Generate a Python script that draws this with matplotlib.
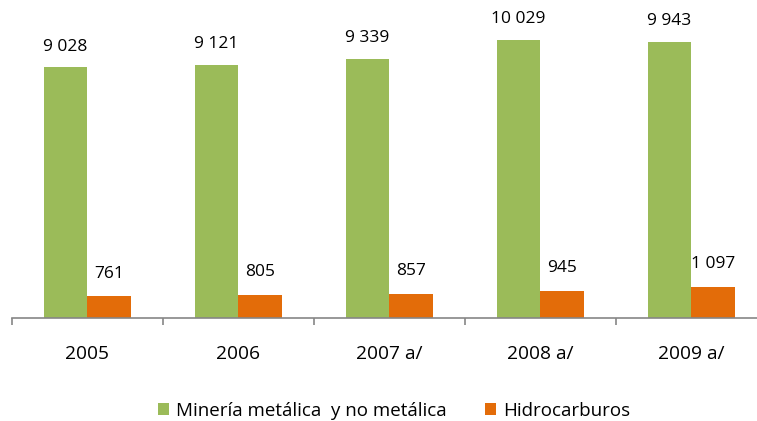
import matplotlib
matplotlib.use("Agg")
import matplotlib.pyplot as plt
import numpy as np
from matplotlib.patches import Patch

categories = ["2005", "2006", "2007 a/", "2008 a/", "2009 a/"]
mineria = [9028, 9121, 9339, 10029, 9943]
hidro = [761, 805, 857, 945, 1097]
series_names = ["Minería metálica  y no metálica", "Hidrocarburos"]
value_labels_m = ["9 028", "9 121", "9 339", "10 029", "9 943"]
value_labels_h = ["761", "805", "857", "945", "1 097"]

plt.rcParams['font.family'] = ['Open Sans', 'DejaVu Sans']

W, H = 757, 421
fig = plt.figure(figsize=(W/100, H/100), dpi=100)
ax_left = 11.5 / W
ax_width = 755 / W
ax_bottom = (H - 317.5) / H
ax_height = 317.5 / H
ax = fig.add_axes([ax_left, ax_bottom, ax_width, ax_height])

green = "#9BBB59"
orange = "#E36C09"
n = len(categories)
x = np.arange(n)
bw = 43.5 / 151
ax.bar(x - bw/2, mineria, width=bw, color=green, label=series_names[0])
ax.bar(x + bw/2, hidro, width=bw, color=orange, label=series_names[1])

ax.set_xlim(-0.5, n - 0.5)
ymax = 317.5 / 0.0277
ax.set_ylim(0, ymax)

for i in range(n):
    ax.annotate(value_labels_m[i], (x[i] - bw/2, mineria[i]), xytext=(0, 15),
                textcoords="offset points", ha="center", va="center", fontsize=12.5, color="black")
    ax.annotate(value_labels_h[i], (x[i] + bw/2, hidro[i]), xytext=(0, 16.5),
                textcoords="offset points", ha="center", va="center", fontsize=12.5, color="black")

for s in ["top", "right", "left"]:
    ax.spines[s].set_visible(False)
ax.spines["bottom"].set_color("#868686")
ax.spines["bottom"].set_linewidth(1.2)
ax.set_yticks([])
ax.set_xticks(np.arange(-0.5, n, 1.0), minor=False)
ax.set_xticklabels([])
ax.tick_params(axis="x", which="major", length=5, color="#868686", width=1.2)
ax.set_xticks(x, minor=True)
ax.set_xticklabels(categories, minor=True, fontsize=13.8)
ax.tick_params(axis="x", which="minor", length=0, pad=20)
ax.patch.set_alpha(0)

handles = [Patch(facecolor=green), Patch(facecolor=orange)]
fig.legend(handles, series_names, loc="center", bbox_to_anchor=(394/W, 1 - 411/H), ncol=2,
           frameon=False, fontsize=13.5, handlelength=0.6, handleheight=0.6,
           handletextpad=0.37, columnspacing=2.0, borderpad=0, borderaxespad=0)

fig.savefig("out.png", dpi=100)
